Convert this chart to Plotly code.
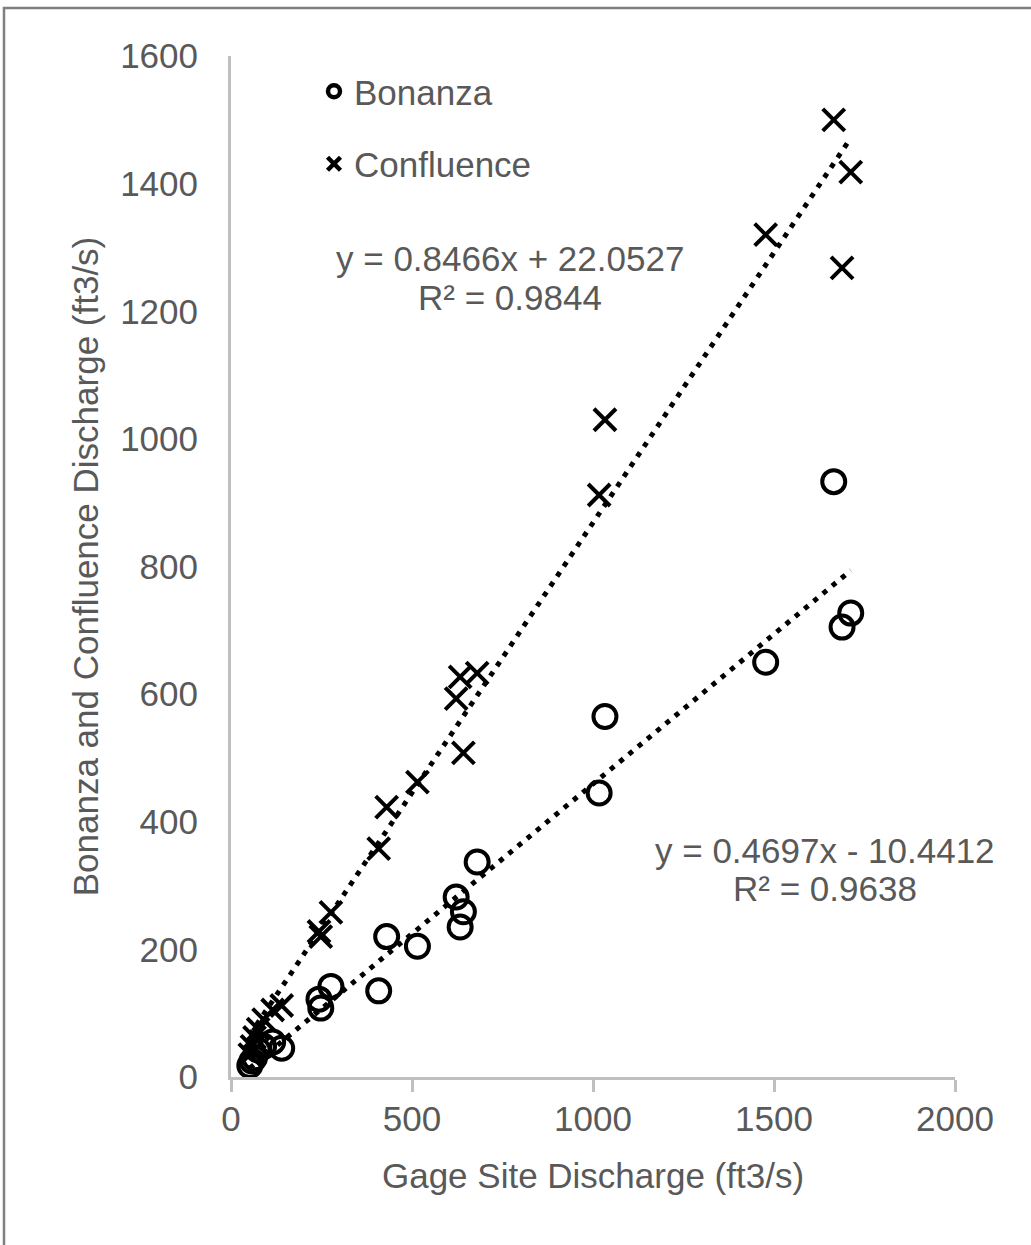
import plotly.graph_objects as go

# Data
gage = [1665, 1712, 1688, 1477, 1033, 1017, 680, 633, 622, 642, 515, 430, 408,
        276, 248, 243, 140, 115, 90, 75, 65, 58, 52]
confluence = [1500, 1418, 1268, 1320, 1030, 912, 633, 627, 593, 508, 462, 423, 358,
              258, 220, 228, 112, 105, 90, 75, 62, 48, 35]
bonanza = [933, 727, 705, 650, 565, 445, 337, 235, 282, 259, 205, 220, 135,
           142, 108, 122, 45, 55, 48, 42, 30, 25, 18]

conf_fit = (0.8466, 22.0527, 0.9844)
bon_fit = (0.4697, -10.4412, 0.9638)

x_ticks = [0, 500, 1000, 1500, 2000]
y_ticks = [0, 200, 400, 600, 800, 1000, 1200, 1400, 1600]

FONT = "Liberation Sans, Arial, sans-serif"
GRAY_TXT = "#595959"
AXIS = "#BFBFBF"

W, H = 1031, 1245
L, R, T, B = 231, W - 955, 56, H - 1077
pw, ph = W - L - R, H - T - B

def px2paper(px, py):
    return (px - L) / pw, (H - B - py) / ph

fig = go.Figure()

xmin, xmax = min(gage), max(gage)
# trendlines
for (m, c, r2) in (bon_fit, conf_fit):
    fig.add_trace(go.Scatter(
        x=[xmin, xmax], y=[m * xmin + c, m * xmax + c], mode="lines",
        line=dict(color="black", width=5, dash="5px,7px"),
        showlegend=False, hoverinfo="skip"))

fig.add_trace(go.Scatter(
    x=gage, y=bonanza, mode="markers", name="Bonanza", showlegend=False,
    marker=dict(symbol="circle-open", size=23, color="black", line=dict(width=4, color="black"))))
fig.add_trace(go.Scatter(
    x=gage, y=confluence, mode="markers", name="Confluence", showlegend=False,
    marker=dict(symbol="x-thin-open", size=22, color="black", line=dict(width=4, color="black"))))

# legend entries
fig.add_trace(go.Scatter(
    x=[None], y=[None], mode="markers", name="Bonanza", legendgroup="a",
    marker=dict(symbol="circle-open", size=12, color="black", line=dict(width=4.5, color="black"))))
fig.add_trace(go.Scatter(
    x=[None], y=[None], mode="markers", name="Confluence", legendgroup="b",
    marker=dict(symbol="x-thin-open", size=13, color="black", line=dict(width=4.5, color="black"))))

lx, ly = px2paper(314, 62)

# trendline equation labels
ann = []
for (m, c, r2), (cx, y1, y2) in ((conf_fit, (510, 258, 297)), (bon_fit, (825, 850, 888))):
    sign = "+" if c >= 0 else "-"
    t1 = f"y = {m:.4f}x {sign} {abs(c):.4f}"
    t2 = f"R² = {r2:.4f}"
    for txt, yy in ((t1, y1), (t2, y2)):
        ax_, ay_ = px2paper(cx, yy)
        ann.append(dict(text=txt, x=ax_, y=ay_, xref="paper", yref="paper",
                        xanchor="center", yanchor="middle", showarrow=False,
                        font=dict(family=FONT, size=35, color=GRAY_TXT)))

bx0, by0 = px2paper(4, 8)
fig.update_layout(
    width=W, height=H,
    margin=dict(l=L, r=R, t=T, b=B),
    paper_bgcolor="white", plot_bgcolor="white",
    font=dict(family=FONT, size=35, color=GRAY_TXT),
    showlegend=True,
    legend=dict(x=lx, y=ly, xanchor="left", yanchor="top", bgcolor="rgba(0,0,0,0)",
                font=dict(family=FONT, size=35, color=GRAY_TXT),
                tracegroupgap=24, itemwidth=30),
    annotations=ann,
    shapes=[dict(type="rect", xref="paper", yref="paper", x0=bx0, y0=-0.5, x1=1.5, y1=by0,
                 line=dict(color="#7F7F7F", width=2.5), layer="below")],
    xaxis=dict(range=[0, 2000], tickvals=x_ticks, ticktext=[str(v) for v in x_ticks],
               showgrid=False, zeroline=False, showline=True, linecolor=AXIS, linewidth=3,
               ticks="outside", ticklen=12, tickwidth=3, tickcolor=AXIS,
               ticklabelstandoff=-3,
               tickfont=dict(family=FONT, size=35, color=GRAY_TXT),
               title=dict(text="Gage Site Discharge (ft3/s)", standoff=27,
                          font=dict(family=FONT, size=35, color=GRAY_TXT))),
    yaxis=dict(range=[0, 1600], tickvals=y_ticks, ticktext=[str(v) for v in y_ticks],
               showgrid=False, zeroline=False, showline=True, linecolor=AXIS, linewidth=3,
               ticks="", ticklabelstandoff=23,
               tickfont=dict(family=FONT, size=35, color=GRAY_TXT),
               title=dict(text="Bonanza and Confluence Discharge (ft3/s)", standoff=11,
                          font=dict(family=FONT, size=35, color=GRAY_TXT))),
)

fig.write_html("out.html", config={"displayModeBar": False},
               post_script="document.body.style.margin='0';")
